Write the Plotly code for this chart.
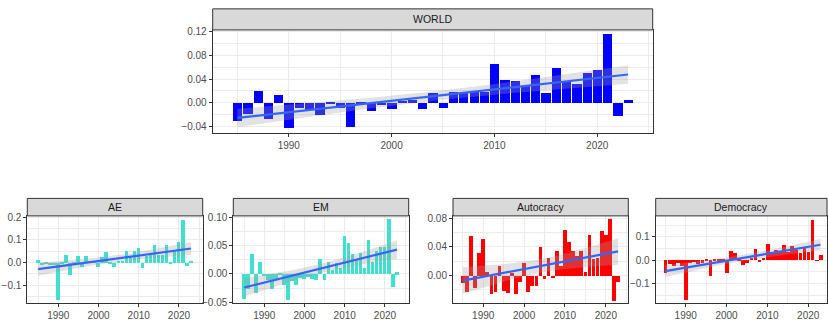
import numpy as np
import plotly.graph_objects as go

W, H = 828, 321

years = list(range(1985, 2024))

world = [-0.031, -0.018, 0.020, -0.027, 0.014, -0.043, -0.009, -0.012, -0.020, -0.001,
         -0.009, -0.040, -0.002, -0.014, -0.004, -0.011, 0.003, 0.004, -0.010, 0.017,
         -0.008, 0.018, 0.017, 0.018, 0.018, 0.066, 0.039, 0.037, 0.029, 0.046,
         0.017, 0.058, 0.036, 0.032, 0.051, 0.056, 0.115, -0.022, 0.004]

ae = [0.010, -0.012, -0.008, -0.010, -0.012, -0.165, -0.003, 0.033, -0.057, -0.005,
      0.029, -0.021, 0.029, 0.005, 0.003, -0.020, 0.023, 0.049, -0.003, -0.021,
      0.004, 0.004, 0.050, 0.026, 0.052, 0.063, -0.024, 0.029, 0.033, 0.080,
      0.036, 0.033, 0.080, -0.003, 0.050, 0.093, 0.190, -0.017, 0.009]

em = [-0.044, -0.027, 0.035, -0.033, 0.021, -0.003, -0.010, -0.027, -0.008, 0.001,
      -0.020, -0.045, -0.012, -0.019, -0.007, -0.008, -0.005, -0.008, -0.011, 0.027,
      -0.011, 0.021, 0.007, 0.019, 0.010, 0.066, 0.054, 0.036, 0.027, 0.037,
      0.011, 0.060, 0.022, 0.040, 0.048, 0.047, 0.096, -0.022, 0.003]

autocracy = [-0.010, -0.023, 0.055, -0.018, 0.032, 0.051, 0.005, -0.026, -0.023, 0.013,
             -0.021, -0.024, 0.004, -0.026, -0.009, 0.017, -0.023, -0.014, -0.015, 0.040,
             -0.005, 0.024, -0.004, 0.034, 0.014, 0.064, 0.047, 0.034, 0.027, 0.035,
             0.005, 0.057, 0.023, 0.024, 0.062, 0.057, 0.080, -0.035, -0.009]

democracy = [-0.054, -0.015, -0.024, -0.012, -0.026, -0.169, -0.012, -0.008, -0.015, -0.010,
             0.007, -0.065, 0.003, 0.007, 0.007, -0.054, 0.040, 0.031, 0.004, -0.019,
             -0.012, 0.012, 0.049, -0.005, 0.012, 0.068, 0.032, 0.046, 0.040, 0.064,
             0.036, 0.060, 0.046, 0.033, 0.054, 0.035, 0.175, -0.002, 0.024]

x_ticks = [1990, 2000, 2010, 2020]
x_minor = [1985, 1995, 2005, 2015, 2025]

# panel: title, values, bar colour, plot box in pixels (x0, x1, y0, y1),
# x range, y range, y ticks, y minor ticks, tick format
panels = [
    dict(title="WORLD", y=world, color="#0000FF", box=(212.7, 652.7, 26.7, 132.3),
         xr=(1982.6, 2025.4), yr=(-0.050, 0.1224),
         yt=[-0.04, 0.0, 0.04, 0.08, 0.12], ym=[-0.02, 0.02, 0.06, 0.10], fmt=".2f"),
    dict(title="AE", y=ae, color="#40E0D0", box=(27.3, 202.7, 218.0, 307.3),
         xr=(1982.3, 2025.9), yr=(-0.178, 0.2066),
         yt=[-0.1, 0.0, 0.1, 0.2], ym=[-0.15, -0.05, 0.05, 0.15], fmt=".1f"),
    dict(title="EM", y=em, color="#40E0D0", box=(233.3, 408.7, 218.0, 307.3),
         xr=(1982.3, 2025.9), yr=(-0.0506, 0.102),
         yt=[-0.05, 0.0, 0.05, 0.10], ym=[-0.025, 0.025, 0.075], fmt=".2f"),
    dict(title="Autocracy", y=autocracy, color="#FF0000", box=(453.0, 628.3, 218.0, 307.3),
         xr=(1982.6, 2025.5), yr=(-0.0382, 0.0836),
         yt=[0.0, 0.04, 0.08], ym=[-0.02, 0.02, 0.06], fmt=".2f"),
    dict(title="Democracy", y=democracy, color="#FF0000", box=(655.7, 827.0, 218.0, 307.3),
         xr=(1982.65, 2024.6), yr=(-0.182, 0.190),
         yt=[-0.1, 0.0, 0.1], ym=[-0.15, -0.05, 0.05, 0.15], fmt=".1f"),
]

STRIP_H = 18.0
T975 = 2.026  # Student t quantile, 37 degrees of freedom


def lm_band(x, y, n=80):
    x = np.asarray(x, float)
    y = np.asarray(y, float)
    b1, b0 = np.polyfit(x, y, 1)
    resid = y - (b0 + b1 * x)
    s = np.sqrt(np.sum(resid ** 2) / (len(x) - 2))
    xm = x.mean()
    sxx = np.sum((x - xm) ** 2)
    grid = np.linspace(x.min(), x.max(), n)
    fit = b0 + b1 * grid
    se = s * np.sqrt(1 / len(x) + (grid - xm) ** 2 / sxx)
    return grid, fit, fit - T975 * se, fit + T975 * se


fig = go.Figure()
shapes = []
annotations = []
grid_col = "#EBEBEB"
font = "Liberation Sans, Arial, sans-serif"

for i, p in enumerate(panels):
    k = "" if i == 0 else str(i + 1)
    xa, ya = "x" + k, "y" + k
    x0, x1, y0, y1 = p["box"]

    fig.add_trace(go.Bar(x=years, y=p["y"], width=0.9, marker_color=p["color"],
                         marker_line_width=0, xaxis=xa, yaxis=ya, showlegend=False))

    gx, fit, lo, hi = lm_band(years, p["y"])
    fig.add_trace(go.Scatter(x=gx, y=lo, mode="lines", line=dict(width=0),
                             xaxis=xa, yaxis=ya, showlegend=False, hoverinfo="skip"))
    fig.add_trace(go.Scatter(x=gx, y=hi, mode="lines", line=dict(width=0),
                             fill="tonexty", fillcolor="rgba(160,160,160,0.3)",
                             xaxis=xa, yaxis=ya, showlegend=False, hoverinfo="skip"))
    fig.add_trace(go.Scatter(x=gx, y=fit, mode="lines",
                             line=dict(color="#3366FF", width=2.2),
                             xaxis=xa, yaxis=ya, showlegend=False))

    axis_common = dict(showline=True, mirror=True, linecolor="#333333", linewidth=1,
                       ticks="outside", ticklen=3, tickcolor="#333333", tickwidth=1,
                       gridcolor=grid_col, gridwidth=1, zeroline=False,
                       tickfont=dict(family=font, size=10, color="#4D4D4D"))
    fig.update_layout(**{
        "xaxis" + k: dict(axis_common, domain=[x0 / W, x1 / W], anchor=ya,
                          range=list(p["xr"]), tickvals=x_ticks,
                          minor=dict(tickvals=x_minor, showgrid=True,
                                     gridcolor=grid_col, gridwidth=0.5, ticks="")),
        "yaxis" + k: dict(axis_common, domain=[1 - y1 / H, 1 - y0 / H], anchor=xa,
                          range=list(p["yr"]), tickvals=p["yt"], tickformat=p["fmt"],
                          minor=dict(tickvals=p["ym"], showgrid=True,
                                     gridcolor=grid_col, gridwidth=0.5, ticks="")),
    })

    sh = 21.7 if i == 0 else STRIP_H
    shapes.append(dict(type="rect", xref="paper", yref="paper",
                       x0=x0 / W, x1=x1 / W, y0=1 - y0 / H, y1=1 - (y0 - sh) / H,
                       fillcolor="#D9D9D9", line=dict(color="#333333", width=1),
                       layer="above"))
    annotations.append(dict(text=p["title"], xref="paper", yref="paper",
                            x=(x0 + x1) / 2 / W, y=1 - (y0 - sh / 2) / H,
                            xanchor="center", yanchor="middle", showarrow=False,
                            font=dict(family=font, size=10.5, color="#1A1A1A")))

fig.update_layout(width=W, height=H, margin=dict(l=0, r=0, t=0, b=0),
                  paper_bgcolor="white", plot_bgcolor="white",
                  shapes=shapes, annotations=annotations, bargap=0)

fig.write_html("out.html")
